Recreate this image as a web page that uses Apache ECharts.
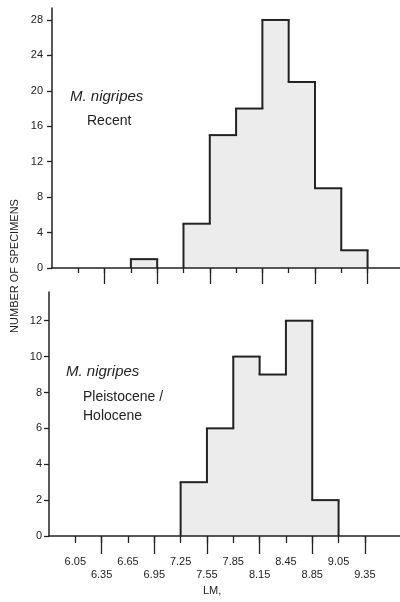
<!DOCTYPE html>
<html>
<head>
    <meta charset="utf-8">
    <title>M. nigripes LM</title>
    <script src="https://cdn.jsdelivr.net/npm/echarts@6/dist/echarts.min.js"></script>
    <style>
        html, body { margin: 0; padding: 0; background: #fff; }
        #container { width: 400px; height: 602px; }
    </style>
</head>
<body>
<div id="container"></div>
<script>
    // bin lower edges (width 0.3) and counts
    var binStarts = [6.05, 6.35, 6.65, 6.95, 7.25, 7.55, 7.85, 8.15, 8.45, 8.75, 9.05, 9.35];
    var binWidth = 0.3;
    var recentCounts = [0, 0, 1, 0, 5, 15, 18, 28, 21, 9, 2, 0];
    var pleistoCounts = [0, 0, 0, 0, 3, 6, 10, 9, 12, 2, 0, 0];

    var tickValues = [6.05, 6.35, 6.65, 6.95, 7.25, 7.55, 7.85, 8.15, 8.45, 8.75, 9.05, 9.35];
    var tickLabels = ['6.05', '6.35', '6.65', '6.95', '7.25', '7.55', '7.85', '8.15', '8.45', '8.85', '9.05', '9.35'];
    var longTicks = [6.35, 6.95, 7.55, 8.15, 8.75, 9.35];
    var recentYTicks = [0, 4, 8, 12, 16, 20, 24, 28];
    var pleistoYTicks = [0, 2, 4, 6, 8, 10, 12];

    var ink = '#222';
    var font = '"Liberation Sans", Arial, sans-serif';

    function histData(counts) {
        var out = [];
        for (var i = 0; i < binStarts.length; i++) {
            var prev = i > 0 ? counts[i - 1] : 0;
            out.push([binStarts[i], binStarts[i] + binWidth, counts[i], prev]);
        }
        return out;
    }

    function renderHist(params, api) {
        var x0 = api.value(0), x1 = api.value(1), c = api.value(2), prev = api.value(3);
        var pBase = api.coord([x0, 0]);
        var pTop = api.coord([x1, c]);
        var pPrev = api.coord([x0, prev]);
        var lineStyle = {stroke: ink, lineWidth: 2, fill: null};
        var children = [];
        if (c > 0) {
            // a little overlap so neighbouring fills do not leave a seam
            children.push({
                type: 'rect', z2: 0,
                shape: {x: pBase[0] - 0.6, y: pTop[1], width: pTop[0] - pBase[0] + 1.2, height: pBase[1] - pTop[1]},
                style: {fill: '#ececec'}
            });
            children.push({
                type: 'line', z2: 2,
                shape: {x1: pBase[0] - 1, y1: pTop[1], x2: pTop[0] + 1, y2: pTop[1]},
                style: lineStyle
            });
        }
        if (c !== prev) {
            children.push({
                type: 'line', z2: 2,
                shape: {x1: pBase[0], y1: pPrev[1], x2: pBase[0], y2: pTop[1]},
                style: lineStyle
            });
        }
        return {type: 'group', children: children};
    }

    function labelFor(value) {
        for (var i = 0; i < tickValues.length; i++) {
            if (Math.abs(tickValues[i] - value) < 1e-6) {
                return i % 2 === 0 ? tickLabels[i] : '\n' + tickLabels[i];
            }
        }
        return '';
    }

    function xAxes(gridIndex, max, shortLen, longLen, showLabels) {
        return [{
            type: 'value', gridIndex: gridIndex, position: 'bottom', min: 5.75, max: max, z: 5,
            axisLine: {show: true, lineStyle: {color: ink, width: 1.5}},
            axisTick: {show: true, customValues: tickValues, length: shortLen, lineStyle: {color: ink, width: 1.3}},
            axisLabel: {
                show: showLabels, customValues: tickValues, margin: 19,
                color: ink, fontSize: 11, fontFamily: font, lineHeight: 13.5,
                formatter: labelFor
            },
            splitLine: {show: false}
        }, {
            type: 'value', gridIndex: gridIndex, position: 'bottom', min: 5.75, max: max, z: 5,
            axisLine: {show: false},
            axisTick: {show: true, customValues: longTicks, length: longLen, lineStyle: {color: ink, width: 1.3}},
            axisLabel: {show: false},
            splitLine: {show: false}
        }];
    }

    function yAxis(gridIndex, max, ticks, margin) {
        return {
            type: 'value', gridIndex: gridIndex, min: 0, max: max, z: 5,
            axisLine: {show: true, lineStyle: {color: ink, width: 1.5}},
            axisTick: {show: true, customValues: ticks, length: 5, lineStyle: {color: ink, width: 1.3}},
            axisLabel: {customValues: ticks, margin: margin, color: ink, fontSize: 11, fontFamily: font},
            splitLine: {show: false}
        };
    }

    var myChart = echarts.init(document.getElementById('container'));

    var option = {
        animation: false,
        backgroundColor: '#fff',
        grid: [
            {left: 52, right: 0, top: 8, height: 260},
            {left: 49, right: 0, top: 292, height: 244}
        ],
        xAxis: xAxes(0, 9.72, 5, 16, false).concat(xAxes(1, 9.75, 7, 18, true)),
        yAxis: [
            yAxis(0, 29.35, recentYTicks, 9),
            yAxis(1, 13.6, pleistoYTicks, 7)
        ],
        series: [{
            name: 'Recent',
            type: 'custom',
            xAxisIndex: 0, yAxisIndex: 0,
            renderItem: renderHist,
            data: histData(recentCounts)
        }, {
            name: 'Pleistocene / Holocene',
            type: 'custom',
            xAxisIndex: 2, yAxisIndex: 1,
            renderItem: renderHist,
            data: histData(pleistoCounts)
        }],
        graphic: [
            {type: 'text', x: 15, y: 266, rotation: Math.PI / 2,
                style: {text: 'NUMBER OF SPECIMENS', fill: ink, font: '11px ' + font, align: 'center', verticalAlign: 'middle'}},
            {type: 'text', left: 70, top: 89,
                style: {text: 'M. nigripes', fill: ink, font: 'italic 15px ' + font}},
            {type: 'text', left: 87, top: 114,
                style: {text: 'Recent', fill: ink, font: '14px ' + font}},
            {type: 'text', left: 66, top: 364,
                style: {text: 'M. nigripes', fill: ink, font: 'italic 15px ' + font}},
            {type: 'text', left: 83, top: 390,
                style: {text: 'Pleistocene /', fill: ink, font: '14px ' + font}},
            {type: 'text', left: 83, top: 409,
                style: {text: 'Holocene', fill: ink, font: '14px ' + font}},
            {type: 'text', left: 203, top: 585,
                style: {text: 'LM,', fill: ink, font: '11px ' + font}}
        ]
    };

    myChart.setOption(option);
</script>
</body>
</html>
